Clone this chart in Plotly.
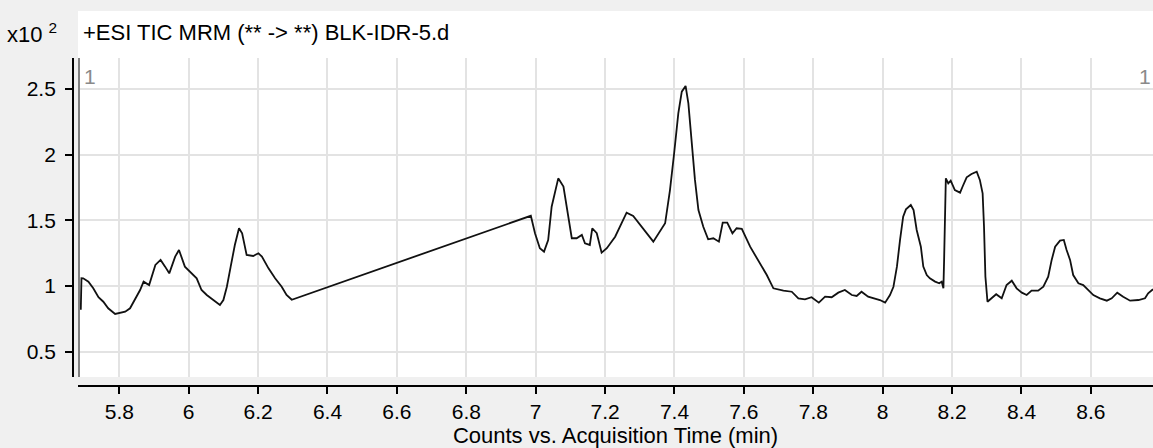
import plotly.graph_objects as go

# Acquisition time (min)
times = [5.689, 5.691, 5.696, 5.711, 5.725, 5.740, 5.754, 5.768, 5.788, 5.802, 5.817, 5.831, 5.845, 5.860,
         5.870, 5.886, 5.904, 5.919, 5.932, 5.944, 5.961, 5.972, 5.989, 6.004, 6.023, 6.037, 6.052, 6.071,
         6.090, 6.100, 6.110, 6.121, 6.133, 6.145, 6.154, 6.167, 6.186, 6.201, 6.211, 6.230, 6.249, 6.268,
         6.282, 6.297,
         6.986, 6.998, 7.012, 7.024, 7.036, 7.046, 7.060, 7.065, 7.080, 7.089, 7.104, 7.118, 7.133, 7.142,
         7.156, 7.163, 7.176, 7.190, 7.205, 7.229, 7.248, 7.262, 7.281, 7.310, 7.339, 7.373, 7.387, 7.399,
         7.411, 7.421, 7.432, 7.440, 7.450, 7.459, 7.469, 7.483, 7.497, 7.512, 7.528, 7.539, 7.552, 7.567,
         7.579, 7.594, 7.618, 7.646, 7.666, 7.685, 7.714, 7.738, 7.757, 7.776, 7.795, 7.816, 7.834, 7.853,
         7.872, 7.891, 7.911, 7.925, 7.939, 7.958, 7.978, 7.992, 8.007, 8.021, 8.031, 8.041, 8.050, 8.059,
         8.067, 8.081, 8.089, 8.098, 8.110, 8.117, 8.127, 8.136, 8.151, 8.163, 8.170, 8.175, 8.177, 8.180,
         8.182, 8.189, 8.196, 8.208, 8.223, 8.231, 8.242, 8.256, 8.271, 8.280, 8.288, 8.292, 8.296, 8.302,
         8.314, 8.327, 8.343, 8.357, 8.372, 8.386, 8.401, 8.415, 8.429, 8.448, 8.463, 8.477, 8.487, 8.497,
         8.511, 8.522, 8.530, 8.540, 8.549, 8.564, 8.578, 8.593, 8.607, 8.626, 8.646, 8.660, 8.676, 8.693,
         8.713, 8.737, 8.756, 8.765, 8.779]

# Counts (x10^2)
counts = [0.82, 1.06, 1.059, 1.034, 0.983, 0.915, 0.881, 0.831, 0.788, 0.798, 0.805, 0.831, 0.894, 0.970,
          1.034, 1.008, 1.161, 1.199, 1.148, 1.097, 1.224, 1.275, 1.148, 1.110, 1.059, 0.970, 0.932, 0.894,
          0.856, 0.894, 0.995, 1.148, 1.313, 1.440, 1.402, 1.237, 1.229, 1.250, 1.224, 1.135, 1.059, 0.995,
          0.932, 0.896,
          1.535, 1.402, 1.288, 1.262, 1.351, 1.604, 1.782, 1.820, 1.757, 1.604, 1.364, 1.364, 1.389, 1.326,
          1.313, 1.440, 1.402, 1.254, 1.288, 1.376, 1.478, 1.559, 1.534, 1.440, 1.338, 1.478, 1.731, 2.011,
          2.315, 2.480, 2.523, 2.391, 2.087, 1.808, 1.579, 1.452, 1.356, 1.364, 1.338, 1.483, 1.483, 1.402,
          1.440, 1.436, 1.300, 1.173, 1.084, 0.983, 0.965, 0.957, 0.907, 0.899, 0.915, 0.874, 0.919, 0.915,
          0.950, 0.970, 0.932, 0.925, 0.957, 0.919, 0.907, 0.894, 0.874, 0.932, 0.995, 1.148, 1.351, 1.528,
          1.584, 1.617, 1.579, 1.427, 1.300, 1.148, 1.084, 1.059, 1.034, 1.021, 1.034, 0.983, 1.199, 1.617,
          1.820, 1.782, 1.802, 1.731, 1.711, 1.762, 1.828, 1.853, 1.871, 1.808, 1.706, 1.452, 1.072, 0.881,
          0.907, 0.938, 0.907, 1.008, 1.041, 0.983, 0.950, 0.932, 0.965, 0.965, 0.995, 1.072, 1.199, 1.300,
          1.346, 1.351, 1.275, 1.199, 1.084, 1.021, 1.008, 0.970, 0.932, 0.907, 0.889, 0.907, 0.950, 0.919,
          0.889, 0.894, 0.907, 0.945, 0.976]

x_tick_vals = [5.8, 6.0, 6.2, 6.4, 6.6, 6.8, 7.0, 7.2, 7.4, 7.6, 7.8, 8.0, 8.2, 8.4, 8.6]
x_tick_text = ["5.8", "6", "6.2", "6.4", "6.6", "6.8", "7", "7.2", "7.4", "7.6", "7.8", "8", "8.2", "8.4", "8.6"]
y_tick_vals = [0.5, 1.0, 1.5, 2.0, 2.5]
y_tick_text = ["0.5", "1", "1.5", "2", "2.5"]

title_text = "+ESI TIC MRM (** -> **) BLK-IDR-5.d"
x_title = "Counts vs. Acquisition Time (min)"

FONT = "Liberation Sans, Arial, sans-serif"
FS = 22
W, H = 1153, 448
ML, MR, MT, MB = 73, 0, 11, 62
pw = W - ML - MR
ph = H - MT - MB
x_dom0 = 5 / pw
y_dom0 = 9 / ph
y_dom1 = (386 - 58) / ph


def px_x(p):
    return (p - ML) / pw


def px_y(p):
    return (H - MB - p) / ph


fig = go.Figure()
fig.add_trace(go.Scatter(x=times, y=counts, mode="lines",
                         line=dict(color="#111111", width=1.8), hoverinfo="x+y"))

fig.update_layout(
    width=W, height=H, autosize=False,
    margin=dict(l=ML, r=MR, t=MT, b=MB, pad=0),
    paper_bgcolor="#f0f0f0", plot_bgcolor="#ffffff",
    showlegend=False,
    font=dict(family=FONT, size=FS, color="#000000"),
    xaxis=dict(domain=[x_dom0, 1], range=[5.681, 8.779], anchor="free", position=0,
               showline=True, linecolor="#000000", linewidth=1.8,
               ticks="outside", ticklen=7, tickwidth=1.8, tickcolor="#000000",
               tickvals=x_tick_vals, ticktext=x_tick_text,
               showgrid=True, gridcolor="#e3e3e3", gridwidth=2, zeroline=False,
               tickfont=dict(size=21), ticklabelstandoff=0,
               title=dict(text=x_title, font=dict(size=FS), standoff=2)),
    yaxis=dict(domain=[y_dom0, y_dom1], range=[0.308, 2.736], anchor="free", position=0,
               showline=True, linecolor="#000000", linewidth=1.8,
               ticks="outside", ticklen=7, tickwidth=1.8, tickcolor="#000000",
               tickvals=y_tick_vals, ticktext=y_tick_text,
               showgrid=True, gridcolor="#e3e3e3", gridwidth=2, zeroline=False,
               tickfont=dict(size=21), ticklabelstandoff=5),
    shapes=[
        # white title strip above the plot
        dict(type="rect", xref="paper", yref="paper", x0=x_dom0, x1=1, y0=y_dom1, y1=1,
             fillcolor="#ffffff", line=dict(width=0), layer="below"),
        # left plot border
        dict(type="line", xref="paper", yref="paper", x0=px_x(79), x1=px_x(79),
             y0=y_dom0, y1=y_dom1, line=dict(color="#808080", width=2)),
    ],
    annotations=[
        dict(text=title_text, xref="paper", yref="paper", x=px_x(81), y=px_y(32),
             xanchor="left", yanchor="middle", showarrow=False, font=dict(size=FS, color="#000000")),
        dict(text="x10 <sup>2</sup>", xref="paper", yref="paper", x=px_x(5), y=px_y(33),
             xanchor="left", yanchor="middle", showarrow=False, font=dict(size=FS, color="#000000")),
        dict(text="1", xref="paper", yref="paper", x=px_x(82), y=px_y(63),
             xanchor="left", yanchor="top", showarrow=False, font=dict(size=21, color="#8a8a8a")),
        dict(text="1", xref="paper", yref="paper", x=px_x(1153), y=px_y(63),
             xanchor="right", yanchor="top", showarrow=False, font=dict(size=21, color="#8a8a8a")),
    ],
)

fig.write_html("out.html")
